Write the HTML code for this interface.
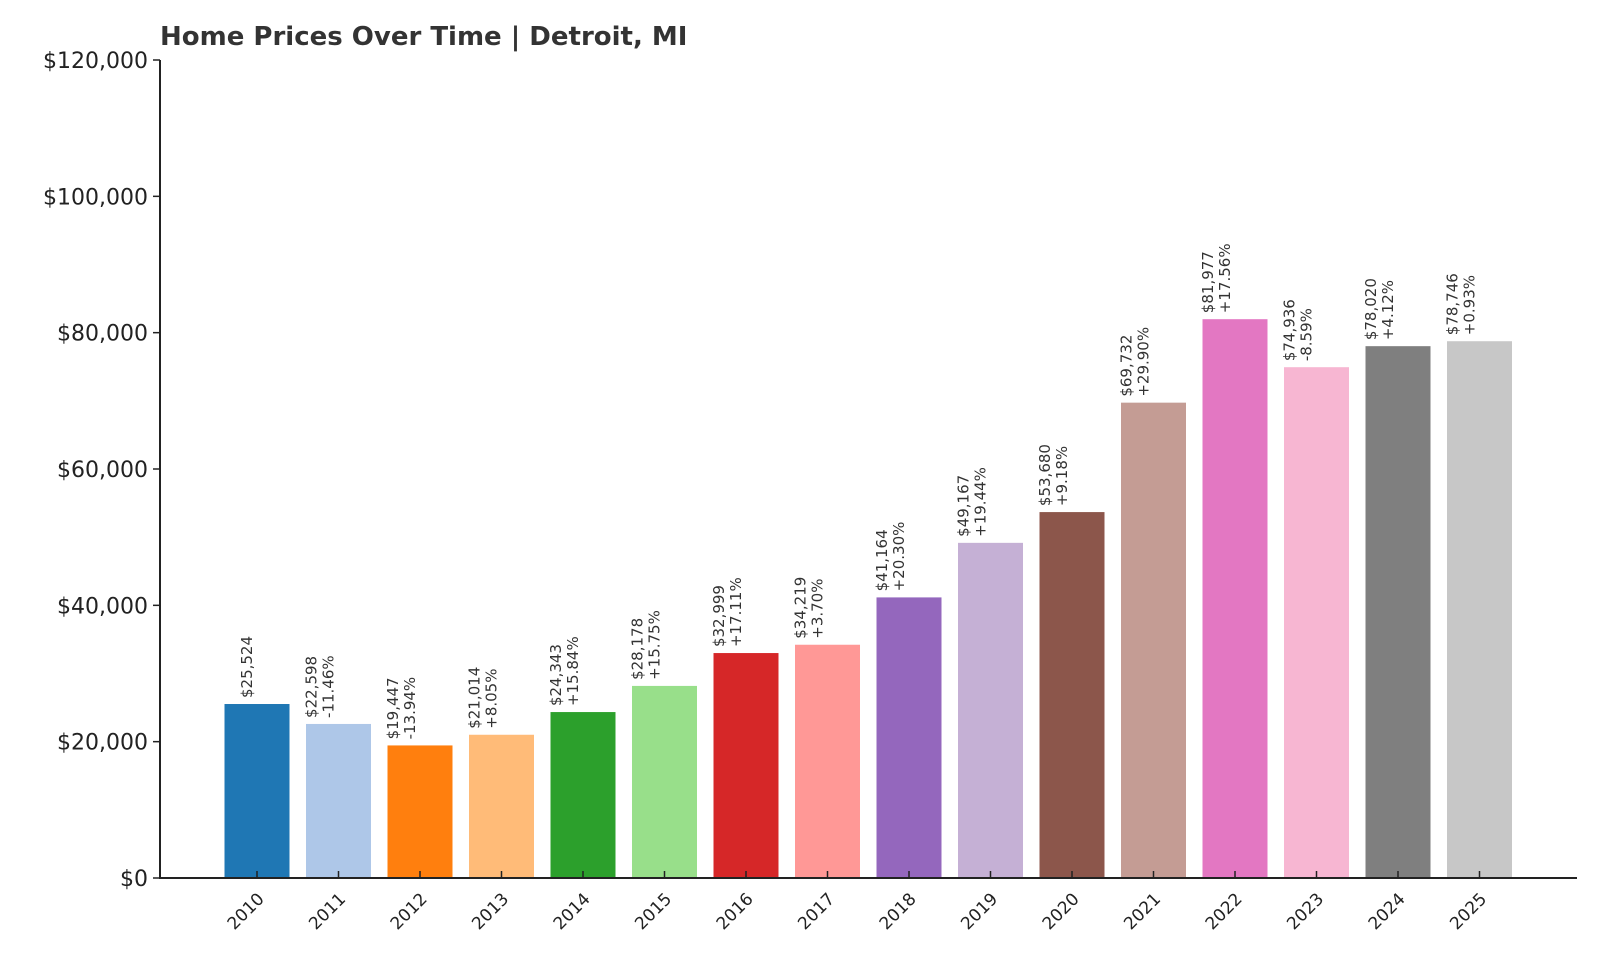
<!DOCTYPE html>
<html><head><meta charset="utf-8"><style>
body{margin:0;background:#fff}
svg{display:block;font-family:"DejaVu Sans","Liberation Sans",sans-serif}
</style></head><body>
<svg id="chart" width="1600" height="960">
<text x="160" y="45" font-size="26" font-weight="bold" fill="#333">Home Prices Over Time | Detroit, MI</text>
<g id="yaxis"></g>
<g id="bars"></g>
<g id="xaxis"></g>
</svg>
<script>
const years=["2010","2011","2012","2013","2014","2015","2016","2017","2018","2019","2020","2021","2022","2023","2024","2025"];
const values=[25524,22598,19447,21014,24343,28178,32999,34219,41164,49167,53680,69732,81977,74936,78020,78746];
const changes=["","-11.46%","-13.94%","+8.05%","+15.84%","+15.75%","+17.11%","+3.70%","+20.30%","+19.44%","+9.18%","+29.90%","+17.56%","-8.59%","+4.12%","+0.93%"];
const colors=["#1f77b4","#aec7e8","#ff7f0e","#ffbb78","#2ca02c","#98df8a","#d62728","#ff9896","#9467bd","#c5b0d5","#8c564b","#c49c94","#e377c2","#f7b6d2","#7f7f7f","#c7c7c7"];
const yTicks=[0,20000,40000,60000,80000,100000,120000];
const NS="http://www.w3.org/2000/svg";
const x0=160,x1=1577,y0=878,yTop=60,yMax=120000;
const step=81.5,first=257,bw=65;
const xs=i=>first+i*step;
const ys=v=>y0-v/yMax*(y0-yTop);
function mk(t,a,p){const e=document.createElementNS(NS,t);for(const k in a)e.setAttribute(k,a[k]);p.appendChild(e);return e;}
const ya=document.getElementById('yaxis'),ba=document.getElementById('bars'),xa=document.getElementById('xaxis');
yTicks.forEach(v=>{
 const y=ys(v);
 const l=mk('line',{x1:x0-7,x2:x0,y1:y,y2:y,stroke:'#222','stroke-width':1.5},ya);
 
 
 const t=mk('text',{x:x0-12,y:y+8,'text-anchor':'end','font-size':22,fill:'#222'},ya);
 t.textContent='$'+v.toLocaleString('en-US');
 
 
});
values.forEach((v,i)=>{
 const cx=xs(i),y=ys(v);
 const r=mk('rect',{x:cx-bw/2,y:y,width:bw,height:y0-y,fill:colors[i]},ba);
 
 
 const g=mk('text',{transform:`translate(${cx},${y-6}) rotate(-90)`,'font-size':15,fill:'#333'},ba);
 
 
 const lines=changes[i]?['$'+v.toLocaleString('en-US'),changes[i]]:['$'+v.toLocaleString('en-US')];
 lines.forEach((s,j)=>{const ts=mk('tspan',{x:0,y:(j-(lines.length-1))*17+(lines.length==1?-5:-5)+ (j==lines.length-1?0:0)},g);ts.textContent=s;});
 const tk=mk('line',{x1:cx,x2:cx,y1:y0,y2:y0-7,stroke:'#222','stroke-width':1.5},xa);
 
 
 const xl=mk('text',{transform:`translate(${cx+8},${y0+22}) rotate(-45)`,'text-anchor':'end','font-size':17,fill:'#222'},xa);
 xl.textContent=years[i];
 
 
});
const ax=mk('path',{d:`M${x0},${yTop} V${y0} H${x1}`,fill:'none',stroke:'#222','stroke-width':2},xa);


</script>
</body></html>
